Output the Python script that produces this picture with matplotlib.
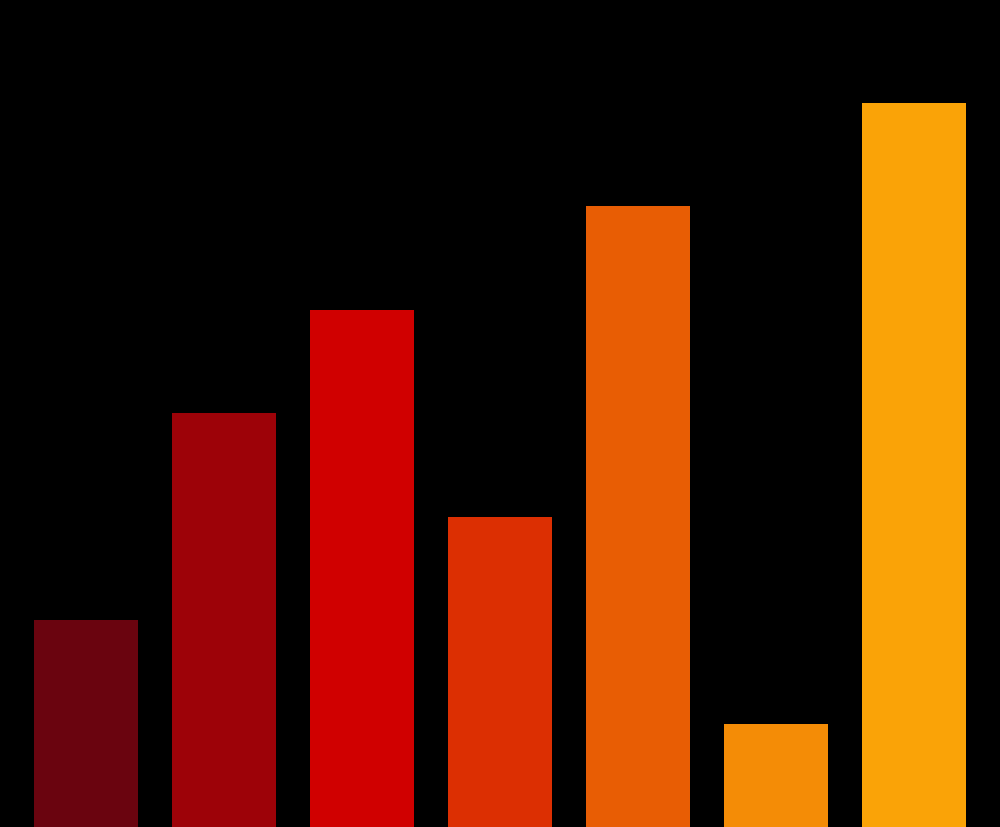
import matplotlib
matplotlib.use("Agg")
import matplotlib.pyplot as plt

categories = ["A", "B", "C", "D", "E", "F", "G"]
values = [2, 4, 5, 3, 6, 1, 7]
colors = ["#6a040f", "#9d0208", "#d00000", "#dc2f02", "#e85d04", "#f48c06", "#faa307"]

fig = plt.figure(figsize=(10, 8.28), dpi=100, facecolor="black")
ax = fig.add_axes([0, 0, 1, 1])
ax.set_facecolor("black")
x = list(range(len(categories)))
ax.bar(x, values, width=0.754, color=colors)
ax.set_xlim(-0.623, len(categories) - 1 + 0.623)
ax.set_ylim(0, 8)
ax.axis("off")
fig.savefig("out.png", dpi=100, facecolor="black")
